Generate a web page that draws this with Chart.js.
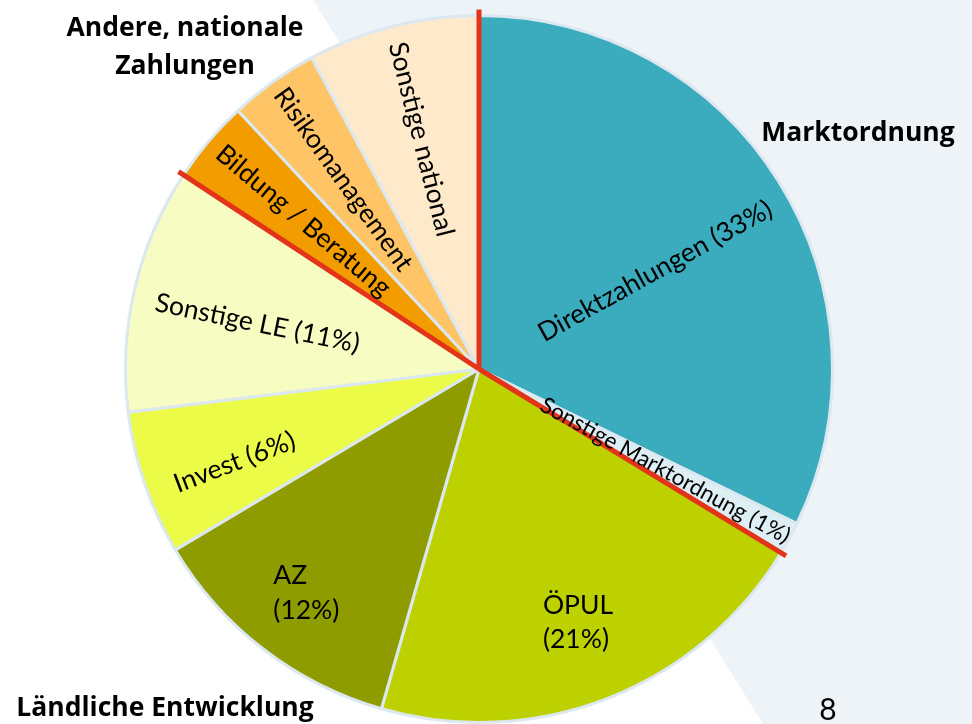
<!DOCTYPE html>
<html>
<head>
<meta charset="utf-8">
<script src="https://cdn.jsdelivr.net/npm/chart.js@4/dist/chart.umd.min.js"></script>
<style>
  html, body { margin: 0; padding: 0; background: #fff; overflow: hidden; }
  #wrap { position: absolute; left: 0; top: 0; width: 972px; height: 724px; }
</style>
</head>
<body>
<div id="wrap"><canvas id="pie"></canvas></div>
<script>
// slices, clockwise from 12 o'clock
const categories = ["Direktzahlungen", "Sonstige Marktordnung", "ÖPUL", "AZ", "Invest",
  "Sonstige LE", "Bildung / Beratung", "Risikomanagement", "Sonstige national"];
const shares = [32.2, 1.5, 20.75, 12.0, 6.6, 11.2, 3.8, 4.1, 7.85];
const sliceTexts = ["Direktzahlungen (33%)", "Sonstige Marktordnung (1%)", "ÖPUL\n(21%)", "AZ\n(12%)",
  "Invest (6%)", "Sonstige LE (11%)", "Bildung / Beratung", "Risikomanagement", "Sonstige national"];
// slice index where a group begins (red separator lines)
const groupStarts = [0, 2, 6];
const groupTitles = ["Marktordnung", "Ländliche Entwicklung", "Andere, nationale\nZahlungen"];
const pageNo = "8";

const sliceColors = ["#3BABBE", "#DDEEF4", "#BDD000", "#8E9C00", "#EBFB47",
  "#F6FCC2", "#F29C00", "#FEC466", "#FEEACB"];

// label placement: radius fraction, angle shift (deg), radial rotation or flat, font size
const labelPlace = [
  {r: 0.57, shift: 3, radial: true, size: 26.5},
  {r: 0.60, shift: 0, radial: true, size: 22.5},
  {r: 0.77, shift: 0, radial: false, size: 26.5},
  {r: 0.80, shift: 0, radial: false, size: 26.5},
  {r: 0.74, shift: -2, radial: true, size: 26.5},
  {r: 0.64, shift: -1.5, radial: true, size: 26.5},
  {r: 0.65, shift: 0, radial: true, size: 26.5},
  {r: 0.66, shift: 0, radial: true, size: 26.5},
  {r: 0.67, shift: 0, radial: true, size: 26.5}
];
const titlePlace = [
  {x: 858, y: 133, size: 26.5},
  {x: 165, y: 708, size: 26.5},
  {x: 185, y: 28, size: 26.5}
];
const FONT = "Lato, 'Open Sans', sans-serif";
const TITLE_FONT = "'Open Sans', Lato, sans-serif";

const backdrop = {
  id: 'backdrop',
  beforeDraw(chart) {
    const ctx = chart.ctx;
    ctx.save();
    ctx.fillStyle = '#EEF3F7';
    ctx.beginPath();
    ctx.moveTo(313, 0);
    ctx.lineTo(972, 0);
    ctx.lineTo(972, 724);
    ctx.lineTo(763, 724);
    ctx.closePath();
    ctx.fill();
    ctx.restore();
  }
};

const separators = {
  id: 'separators',
  afterDatasetsDraw(chart) {
    const ctx = chart.ctx;
    const arcs = chart.getDatasetMeta(0).data;
    ctx.save();
    ctx.strokeStyle = '#E3341A';
    ctx.lineWidth = 5;
    ctx.lineCap = 'butt';
    groupStarts.forEach(i => {
      const a = arcs[i].getProps(['x', 'y', 'startAngle', 'outerRadius'], true);
      const len = a.outerRadius + 6;
      ctx.beginPath();
      ctx.moveTo(a.x, a.y);
      ctx.lineTo(a.x + Math.cos(a.startAngle) * len, a.y + Math.sin(a.startAngle) * len);
      ctx.stroke();
    });
    ctx.restore();
  }
};

const sliceLabels = {
  id: 'sliceLabels',
  afterDatasetsDraw(chart) {
    const ctx = chart.ctx;
    const arcs = chart.getDatasetMeta(0).data;
    arcs.forEach((arc, i) => {
      const a = arc.getProps(['x', 'y', 'startAngle', 'endAngle', 'outerRadius'], true);
      const p = labelPlace[i];
      const mid = (a.startAngle + a.endAngle) / 2 + p.shift * Math.PI / 180;
      const px = a.x + Math.cos(mid) * a.outerRadius * p.r;
      const py = a.y + Math.sin(mid) * a.outerRadius * p.r;
      ctx.save();
      ctx.translate(px, py);
      if (p.radial) {
        let rot = mid;
        while (rot > Math.PI / 2) rot -= Math.PI;
        while (rot <= -Math.PI / 2) rot += Math.PI;
        ctx.rotate(rot);
      }
      ctx.fillStyle = '#000';
      ctx.font = p.size + 'px ' + FONT;
      ctx.textBaseline = 'middle';
      const lines = sliceTexts[i].split('\n');
      const w = Math.max(...lines.map(l => ctx.measureText(l).width));
      const lh = p.size * 1.3;
      ctx.textAlign = 'left';
      lines.forEach((l, k) => {
        ctx.fillText(l, -w / 2, (k - (lines.length - 1) / 2) * lh);
      });
      ctx.restore();
    });
  }
};

const titles = {
  id: 'titles',
  afterDraw(chart) {
    const ctx = chart.ctx;
    ctx.save();
    ctx.fillStyle = '#000';
    ctx.textAlign = 'center';
    ctx.textBaseline = 'middle';
    groupTitles.forEach((t, i) => {
      const p = titlePlace[i];
      ctx.font = 'bold ' + p.size + 'px ' + TITLE_FONT;
      t.split('\n').forEach((l, k) => ctx.fillText(l, p.x, p.y + k * 38));
    });
    ctx.font = '30px ' + FONT;
    ctx.fillText(pageNo, 828, 710);
    ctx.restore();
  }
};

new Chart(document.getElementById('pie'), {
  type: 'pie',
  data: {
    labels: categories,
    datasets: [{
      data: shares,
      backgroundColor: sliceColors,
      borderColor: '#DCE8F0',
      borderWidth: 3
    }]
  },
  options: {
    responsive: true,
    maintainAspectRatio: false,
    animation: false,
    layout: {padding: {top: 14, bottom: 0, left: 0, right: 14}},
    plugins: {
      legend: {display: false},
      tooltip: {enabled: false}
    }
  },
  plugins: [backdrop, separators, sliceLabels, titles]
});
</script>
</body>
</html>
